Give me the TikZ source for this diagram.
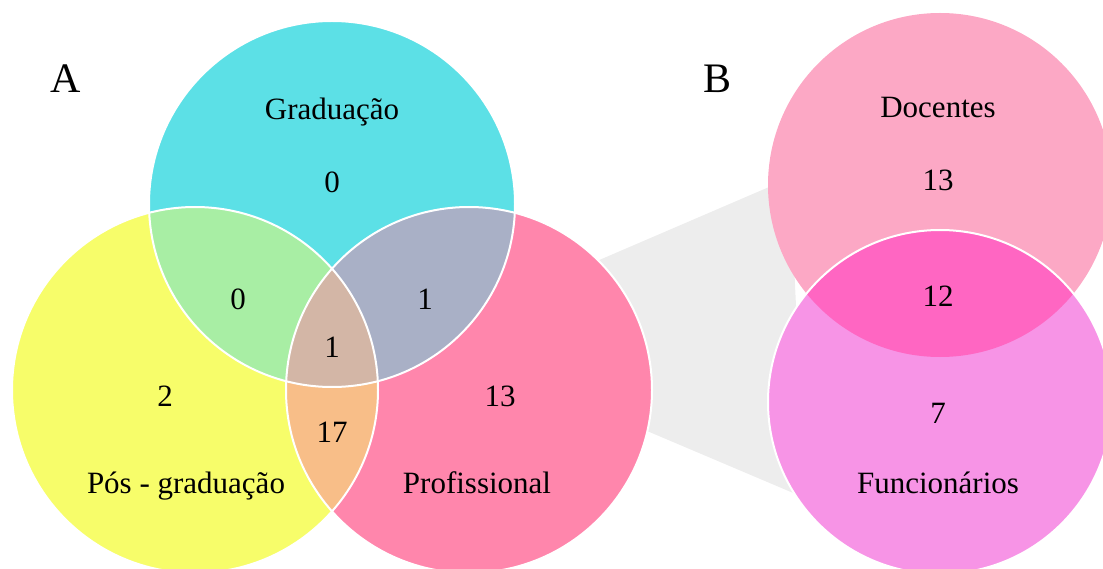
\documentclass[tikz,border=0pt]{standalone}
\usepackage{fontspec}
\setmainfont{Liberation Serif}
\usepackage{tikz}
\definecolor{GradCyan}{HTML}{5CE0E6}
\definecolor{PosYellow}{HTML}{F7FD6A}
\definecolor{ProfPink}{HTML}{FF86AC}
\definecolor{GradPosGreen}{HTML}{A8EEA4}
\definecolor{GradProfSlate}{HTML}{A9B0C6}
\definecolor{AllTan}{HTML}{D3B6A6}
\definecolor{PosProfOrange}{HTML}{F8BE88}
\definecolor{DocRose}{HTML}{FCA8C5}
\definecolor{FuncOrchid}{HTML}{F794E6}
\definecolor{DocFuncMagenta}{HTML}{FF66C2}
\definecolor{ZoomGray}{HTML}{EDEDED}

\begin{document}
\begin{tikzpicture}[
  x=1pt,y=-1pt,
  line join=round,
  every node/.style={font=\fontsize{31}{37}\selectfont,text=black,anchor=base,inner sep=0pt},
  panelletter/.style={font=\fontsize{42}{48}\selectfont},
  setrim/.style={draw=white,line width=2pt}
]
  \pgfmathsetmacro{\radiusA}{183}
  \pgfmathsetmacro{\radiusB}{172}

  \useasboundingbox (0,0) rectangle (1103,569);

  \coordinate (grad) at (332,204);
  \coordinate (pos) at (195,390);
  \coordinate (prof) at (469,390);
  \coordinate (doc) at (940,185);
  \coordinate (func) at (940,402);

  % shaded band from Profissional to panel B
  \fill[ZoomGray] (590,264)--(790,178)--(805,498)--(640,428)--cycle;

  % panel B
  \fill[DocRose] (doc) circle [radius=\radiusB pt];
  \fill[FuncOrchid] (func) circle [radius=\radiusB pt];
  \begin{scope}
    \clip (doc) circle [radius=\radiusB pt];
    \fill[DocFuncMagenta] (func) circle [radius=\radiusB pt];
  \end{scope}
  \draw[setrim] (func) circle [radius=\radiusB pt];

  % panel A
  \fill[GradCyan] (grad) circle [radius=\radiusA pt];
  \fill[PosYellow] (pos) circle [radius=\radiusA pt];
  \fill[ProfPink] (prof) circle [radius=\radiusA pt];
  \begin{scope}
    \clip (grad) circle [radius=\radiusA pt];
    \fill[GradPosGreen] (pos) circle [radius=\radiusA pt];
    \fill[GradProfSlate] (prof) circle [radius=\radiusA pt];
  \end{scope}
  \begin{scope}
    \clip (pos) circle [radius=\radiusA pt];
    \fill[PosProfOrange] (prof) circle [radius=\radiusA pt];
    \clip (grad) circle [radius=\radiusA pt];
    \fill[AllTan] (prof) circle [radius=\radiusA pt];
  \end{scope}
  \foreach \c in {grad,pos,prof}
    \draw[setrim] (\c) circle [radius=\radiusA pt];

  % labels
  \node[panelletter] (letterA) at (66,93) {A};
  \node[panelletter] (letterB) at (717,93) {B};

  \node (gradname) at (332,120) {Graduação};
  \node (gradonly) at (332,193) {0};
  \node (gradpos) at (238,309) {0};
  \node (gradprof) at (425,309) {1};
  \node (allthree) at (332,357) {1};
  \node (posonly) at (165,406) {2};
  \node (profonly) at (500,406) {13};
  \node (posprof) at (332,442) {17};
  \node (posname) at (186,493) {Pós - graduação};
  \node (profname) at (477,493) {Profissional};

  \node (docname) at (938,118) {Docentes};
  \node (doconly) at (938,191) {13};
  \node (docfunc) at (938,307) {12};
  \node (funconly) at (938,423) {7};
  \node (funcname) at (938,493) {Funcionários};
\end{tikzpicture}
\end{document}
